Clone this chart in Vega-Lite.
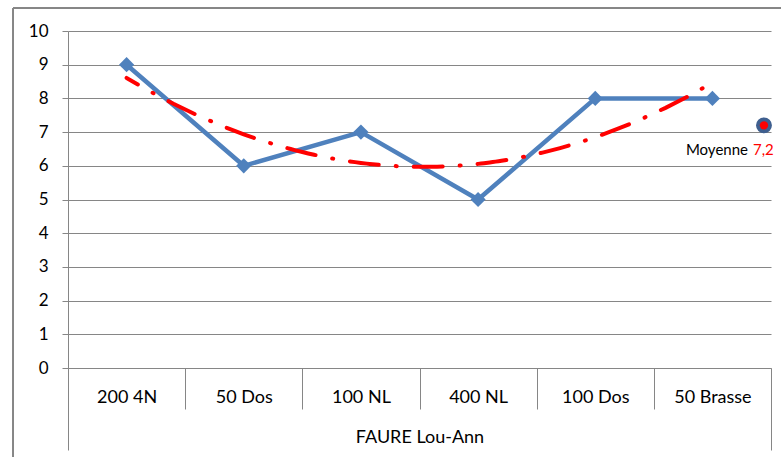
{
  "$schema": "https://vega.github.io/schema/vega-lite/v6.json",
  "width": 703,
  "height": 337,
  "autosize": {"type": "none"},
  "padding": {"left": 68, "top": 31, "right": 10, "bottom": 89},
  "background": "white",
  "config": {"view": {"stroke": null}, "font": "Lato"},
  "datasets": {
    "scores": [
      {"idx": 1, "epreuve": "200 4N", "note": 9},
      {"idx": 2, "epreuve": "50 Dos", "note": 6},
      {"idx": 3, "epreuve": "100 NL", "note": 7},
      {"idx": 4, "epreuve": "400 NL", "note": 5},
      {"idx": 5, "epreuve": "100 Dos", "note": 8},
      {"idx": 6, "epreuve": "50 Brasse", "note": 8}
    ],
    "moyenne": [
      {"idx": 6.44, "note": 7.2, "label": "Moyenne", "valeur": "7,2"}
    ]
  },
  "layer": [
    {
      "data": {"name": "scores"},
      "mark": {"type": "rule", "color": "#868686", "strokeWidth": 1.2, "clip": false},
      "encoding": {
        "y": {"datum": 10.68, "type": "quantitative", "scale": {"domain": [0, 10]}, "axis": null},
        "x": {"datum": 0.031, "type": "quantitative", "scale": {"domain": [0.5, 6.5]}, "axis": null},
        "x2": {"datum": 6.7}
      }
    },
    {
      "data": {"name": "scores"},
      "mark": {"type": "rule", "color": "#868686", "strokeWidth": 1, "clip": false},
      "encoding": {
        "x": {"datum": 0.031, "type": "quantitative", "scale": {"domain": [0.5, 6.5]}, "axis": null},
        "y": {"datum": 10.68, "type": "quantitative", "scale": {"domain": [0, 10]}, "axis": null},
        "y2": {"datum": -2.8}
      }
    },
    {
      "data": {"name": "scores"},
      "mark": {"type": "line", "color": "#4F81BD", "strokeWidth": 4.5, "strokeJoin": "round"},
      "encoding": {
        "x": {
          "field": "idx", "type": "quantitative",
          "scale": {"domain": [0.5, 6.5], "nice": false, "zero": false},
          "axis": {
            "orient": "bottom",
            "values": [0.5, 1.5, 2.5, 3.5, 4.5, 5.5, 6.5],
            "labels": false, "grid": false, "title": null,
            "domain": true, "domainColor": "#868686",
            "tickColor": "#868686", "tickWidth": 1,
            "tickSize": {"condition": {"test": "datum.value === 0.5 || datum.value === 6.5", "value": 82}, "value": 41}
          }
        },
        "y": {
          "field": "note", "type": "quantitative",
          "scale": {"domain": [0, 10], "nice": false},
          "axis": {
            "values": [0, 1, 2, 3, 4, 5, 6, 7, 8, 9, 10],
            "grid": true, "gridColor": "#868686", "gridWidth": 1,
            "domainColor": "#868686", "tickColor": "#868686", "tickSize": 6,
            "labelFontSize": 17, "labelColor": "#000000", "labelPadding": 14,
            "labelFont": "Lato", "title": null
          }
        }
      }
    },
    {
      "data": {"name": "scores"},
      "transform": [{"regression": "note", "on": "idx", "method": "poly", "order": 2}],
      "mark": {"type": "line", "color": "#FF0000", "strokeWidth": 4, "strokeCap": "round", "strokeDash": [29, 17, 1, 17], "strokeDashOffset": 16},
      "encoding": {
        "x": {"field": "idx", "type": "quantitative", "axis": null},
        "y": {"field": "note", "type": "quantitative", "axis": null}
      }
    },
    {
      "data": {"name": "scores"},
      "mark": {"type": "point", "shape": "diamond", "filled": true, "size": 230, "color": "#4F81BD", "opacity": 1},
      "encoding": {
        "x": {
          "field": "idx", "type": "quantitative",
          "axis": {
            "orient": "bottom",
            "values": [1, 2, 3, 4, 5, 6],
            "labelExpr": "['', '200 4N', '50 Dos', '100 NL', '400 NL', '100 Dos', '50 Brasse'][datum.value]",
            "ticks": false, "domain": false, "grid": false,
            "labelFontSize": 18, "labelColor": "#000000", "labelPadding": 20, "labelFont": "Lato",
            "title": "FAURE Lou-Ann", "titleFontSize": 18, "titleFontWeight": "normal",
            "titleColor": "#000000", "titlePadding": 22, "titleFont": "Lato"
          }
        },
        "y": {"field": "note", "type": "quantitative", "axis": null}
      }
    },
    {
      "data": {"name": "moyenne"},
      "mark": {"type": "point", "shape": "circle", "filled": true, "size": 254, "color": "#3F5F8F", "opacity": 1},
      "encoding": {
        "x": {"field": "idx", "type": "quantitative", "axis": null},
        "y": {"field": "note", "type": "quantitative", "axis": null}
      }
    },
    {
      "data": {"name": "moyenne"},
      "mark": {"type": "point", "shape": "circle", "filled": true, "size": 70, "color": "#FF0000", "opacity": 1},
      "encoding": {
        "x": {"field": "idx", "type": "quantitative", "axis": null},
        "y": {"field": "note", "type": "quantitative", "axis": null}
      }
    },
    {
      "data": {"name": "moyenne"},
      "mark": {"type": "text", "align": "right", "baseline": "middle", "dx": -16, "dy": 25, "fontSize": 15, "font": "Lato", "color": "#000000"},
      "encoding": {
        "x": {"field": "idx", "type": "quantitative", "axis": null},
        "y": {"field": "note", "type": "quantitative", "axis": null},
        "text": {"field": "label"}
      }
    },
    {
      "data": {"name": "moyenne"},
      "mark": {"type": "text", "align": "left", "baseline": "middle", "dx": -11, "dy": 25, "fontSize": 15, "font": "Lato", "color": "#FF0000"},
      "encoding": {
        "x": {"field": "idx", "type": "quantitative", "axis": null},
        "y": {"field": "note", "type": "quantitative", "axis": null},
        "text": {"field": "valeur"}
      }
    }
  ],
  "resolve": {"axis": {"x": "independent", "y": "independent"}}
}
